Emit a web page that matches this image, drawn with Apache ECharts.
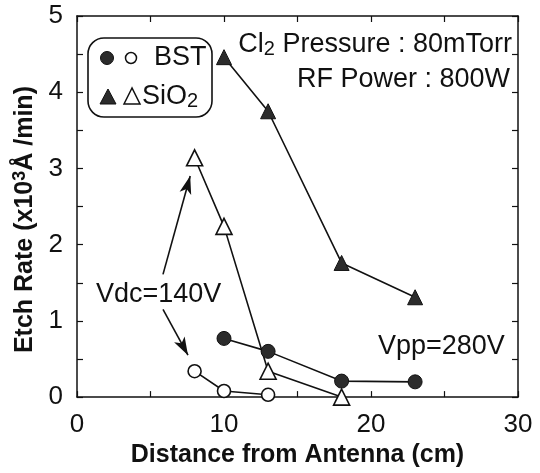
<!DOCTYPE html>
<html>
<head>
<meta charset="utf-8">
<script src="https://cdn.jsdelivr.net/npm/echarts@6/dist/echarts.min.js"></script>
<style>html,body{margin:0;padding:0;background:#fff}#c{width:540px;height:473px}</style>
</head>
<body>
<div id="c"></div>
<script>
// Data (distance in cm, etch rate in x10^3 Å/min)
const bstVppX = [10, 13, 18, 23];
const bstVppY = [0.77, 0.60, 0.21, 0.20];
const bstVdcX = [8, 10, 13];
const bstVdcY = [0.34, 0.08, 0.03];
const sioVppX = [10, 13, 18, 23];
const sioVppY = [4.46, 3.75, 1.76, 1.31];
const sioVdcX = [8, 10, 13, 18];
const sioVdcY = [3.14, 2.24, 0.34, 0.0];
const xTicks = [0, 10, 20, 30];
const yTicks = [0, 1, 2, 3, 4, 5];

const FONT = '"Liberation Sans", Arial, Helvetica, sans-serif';
const INK = '#111';
const FILL = '#2b2b2b';

function pairs(xs, ys) { return xs.map((x, i) => [x, ys[i]]); }

const chart = echarts.init(document.getElementById('c'), null, {renderer: 'canvas'});

const axisCommon = {
  axisLine: {show: true, onZero: false, lineStyle: {color: INK, width: 1.5}},
  axisTick: {show: true, inside: true, length: 6, lineStyle: {color: INK, width: 1.2}},
  splitLine: {show: false}
};

function lineSeries(name, data, symbol, size, filled) {
  return {
    name: name,
    type: 'line',
    data: data,
    symbol: symbol,
    symbolSize: size,
    showAllSymbol: true,
    clip: false,
    lineStyle: {color: INK, width: 1.6},
    itemStyle: filled ? {color: FILL, borderColor: INK, borderWidth: 1}
                      : {color: '#fff', borderColor: INK, borderWidth: 1.6},
    z: 3
  };
}

const option = {
  backgroundColor: '#fff',
  animation: false,
  grid: {left: 77, right: 22, top: 16, bottom: 75},
  xAxis: [
    Object.assign({}, axisCommon, {
      type: 'value', min: 0, max: 30, interval: 5, position: 'bottom',
      axisLabel: {
        color: INK, fontSize: 26, fontFamily: FONT, margin: 15,
        formatter: v => xTicks.includes(v) ? String(v) : ''
      },
      name: 'Distance from Antenna (cm)',
      nameLocation: 'middle', nameGap: 44,
      nameTextStyle: {color: INK, fontSize: 25, fontWeight: 'bold', fontFamily: FONT}
    }),
    Object.assign({}, axisCommon, {
      type: 'value', min: 0, max: 30, interval: 5, position: 'top',
      axisLabel: {show: false}
    })
  ],
  yAxis: [
    Object.assign({}, axisCommon, {
      type: 'value', min: 0, max: 5, interval: 0.5, position: 'left',
      axisLabel: {
        color: INK, fontSize: 26, fontFamily: FONT, margin: 14,
        formatter: v => yTicks.includes(v) ? String(v) : ''
      },
      name: '{a|Etch Rate (x10}{s|3}{a|Å /min)}',
      nameLocation: 'middle', nameGap: 34, nameRotate: 90,
      nameTextStyle: {
        color: INK, fontFamily: FONT, padding: [0, 26, 0, 0],
        rich: {
          a: {fontSize: 25, fontWeight: 'bold', fontFamily: FONT, color: INK, lineHeight: 28},
          s: {fontSize: 18, fontWeight: 'bold', fontFamily: FONT, color: INK, lineHeight: 18, verticalAlign: 'top'}
        }
      }
    }),
    Object.assign({}, axisCommon, {
      type: 'value', min: 0, max: 5, interval: 0.5, position: 'right',
      axisLabel: {show: false}
    })
  ],
  series: [
    lineSeries('BST Vpp', pairs(bstVppX, bstVppY), 'circle', 14, true),
    lineSeries('BST Vdc', pairs(bstVdcX, bstVdcY), 'circle', 13, false),
    lineSeries('SiO2 Vpp', pairs(sioVppX, sioVppY), 'triangle', 15, true),
    lineSeries('SiO2 Vdc', pairs(sioVdcX, sioVdcY), 'triangle', 16, false),
    {
      name: 'arrows', type: 'line', data: [], silent: true,
      markLine: {
        silent: true, animation: false,
        symbol: ['none', 'arrow'], symbolSize: [9, 18],
        label: {show: false},
        lineStyle: {color: INK, width: 1.6, type: 'solid'},
        data: [
          [{coord: [5.85, 1.61]}, {coord: [7.7, 2.9]}],
          [{coord: [5.85, 1.15]}, {coord: [7.55, 0.55]}]
        ]
      }
    }
  ],
  graphic: [
    {type: 'rect', shape: {x: 88, y: 38, width: 124, height: 79, r: 16},
     style: {fill: 'none', stroke: INK, lineWidth: 1.6}, z: 10},
    {type: 'circle', shape: {cx: 107, cy: 58, r: 6.5}, style: {fill: FILL, stroke: INK, lineWidth: 1}, z: 10},
    {type: 'circle', shape: {cx: 131, cy: 58, r: 5.5}, style: {fill: '#fff', stroke: INK, lineWidth: 1.5}, z: 10},
    {type: 'text', x: 154, y: 58, style: {text: 'BST', font: '27px ' + FONT, fill: INK, verticalAlign: 'middle'}, z: 10},
    {type: 'polygon', shape: {points: [[108, 89], [100, 104], [116, 104]]}, style: {fill: FILL, stroke: INK, lineWidth: 1}, z: 10},
    {type: 'polygon', shape: {points: [[132, 88], [124, 104], [140, 104]]}, style: {fill: '#fff', stroke: INK, lineWidth: 1.5}, z: 10},
    {type: 'text', x: 142, y: 97, z: 10, style: {
      text: '{a|SiO}{s|2}', fill: INK, verticalAlign: 'middle',
      rich: {
        a: {fontSize: 27, fontFamily: FONT, fill: INK, lineHeight: 28},
        s: {fontSize: 20, fontFamily: FONT, fill: INK, lineHeight: 20, verticalAlign: 'bottom'}
      }
    }},
    {type: 'text', x: 512, y: 45, z: 10, style: {
      text: '{a|Cl}{s|2}{a| Pressure : 80mTorr}', fill: INK, align: 'right', verticalAlign: 'middle',
      rich: {
        a: {fontSize: 27, fontFamily: FONT, fill: INK, lineHeight: 28},
        s: {fontSize: 20, fontFamily: FONT, fill: INK, lineHeight: 24, verticalAlign: 'bottom'}
      }
    }},
    {type: 'text', x: 510, y: 80, z: 10, style: {
      text: 'RF Power : 800W', font: '27px ' + FONT, fill: INK, align: 'right', verticalAlign: 'middle'
    }},
    {type: 'text', x: 96, y: 295, z: 10, style: {
      text: 'Vdc=140V', font: '27px ' + FONT, fill: INK, verticalAlign: 'middle'
    }},
    {type: 'text', x: 378, y: 347, z: 10, style: {
      text: 'Vpp=280V', font: '27px ' + FONT, fill: INK, verticalAlign: 'middle'
    }}
  ]
};

chart.setOption(option);
</script>
</body>
</html>
